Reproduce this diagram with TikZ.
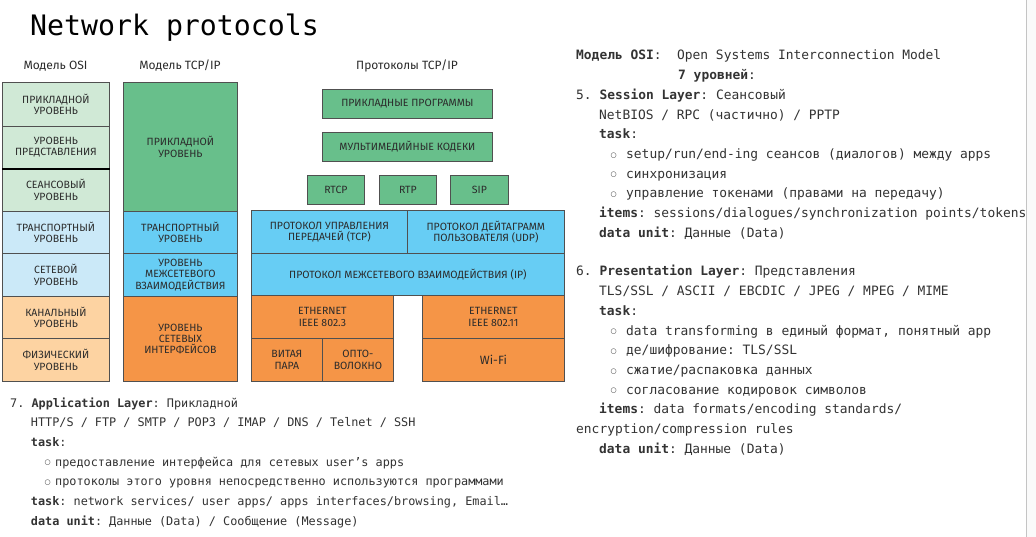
\documentclass[tikz,border=0pt]{standalone}
\usepackage{fontspec}
\setmonofont{DejaVu Sans Mono}
\newfontfamily\dfont{Fira Sans}
\newfontfamily\symf{DejaVu Sans}
\definecolor{osig}{HTML}{D0E9D6}
\definecolor{osib}{HTML}{CBE9F8}
\definecolor{osio}{HTML}{FDD3A2}
\definecolor{tcpg}{HTML}{68BF8B}
\definecolor{tcpb}{HTML}{67CDF4}
\definecolor{tcpo}{HTML}{F59547}
\definecolor{boxline}{HTML}{505050}
\definecolor{dtext}{HTML}{2B2B2B}
\definecolor{btext}{HTML}{333333}
\definecolor{scrollbg}{HTML}{FAFAFA}
\definecolor{scrollline}{HTML}{C4C4C4}
\newcommand{\bul}{{\symf\fontsize{7}{7}\selectfont ○}}
\begin{document}
\begin{tikzpicture}[x=1pt,y=-1pt,
  box/.style={draw=boxline, line width=0.8pt, inner sep=0pt, anchor=north west, align=center,
    font=\dfont\fontsize{10.5}{11.3}\selectfont, text=dtext},
  hdr/.style={inner sep=0pt, font=\dfont\fontsize{12}{13}\selectfont, text=dtext},
  txt/.style={anchor=base west, inner sep=0pt, font=\ttfamily\fontsize{12.9}{15}\selectfont, text=btext},
  txs/.style={anchor=base west, inner sep=0pt, font=\ttfamily\fontsize{11.83}{14}\selectfont, text=btext},
  bull/.style={anchor=base west, inner sep=0pt, text=btext}
]
\useasboundingbox (0,0) rectangle (1036,537);
\fill[white] (0,0) rectangle (1036,537);
\fill[scrollbg] (1026,0) rectangle (1036,537);
\draw[scrollline, line width=1pt] (1026,0) -- (1026,537);

% title
\node[anchor=base west, inner sep=0pt, font=\ttfamily\fontsize{28.2}{30}\selectfont] (title) at (30,35.5) {Network protocols};

% headers
\node[hdr] (h1) at (55.5,66) {Модель OSI};
\node[hdr] (h2) at (180,66) {Модель TCP/IP};
\node[hdr] (h3) at (407,66) {Протоколы TCP/IP};

% OSI model
\node[box, fill=osig, minimum width=107pt, minimum height=44pt] (o7) at (2,82) {ПРИКЛАДНОЙ\\УРОВЕНЬ};
\node[box, fill=osig, minimum width=107pt, minimum height=42pt] (o6) at (2,126) {УРОВЕНЬ\\ПРЕДСТАВЛЕНИЯ};
\node[box, fill=osig, minimum width=107pt, minimum height=43pt] (o5) at (2,168) {СЕАНСОВЫЙ\\УРОВЕНЬ};
\node[box, fill=osib, minimum width=107pt, minimum height=42pt] (o4) at (2,211) {ТРАНСПОРТНЫЙ\\УРОВЕНЬ};
\node[box, fill=osib, minimum width=107pt, minimum height=43pt] (o3) at (2,253) {СЕТЕВОЙ\\УРОВЕНЬ};
\node[box, fill=osio, minimum width=107pt, minimum height=42pt] (o2) at (2,296) {КАНАЛЬНЫЙ\\УРОВЕНЬ};
\node[box, fill=osio, minimum width=107pt, minimum height=43pt] (o1) at (2,338) {ФИЗИЧЕСКИЙ\\УРОВЕНЬ};
\draw[black, line width=1.6pt] (o6.south west) -- (o6.south east);

% TCP/IP model
\node[box, fill=tcpg, minimum width=114pt, minimum height=129pt] (t4) at (123,82) {ПРИКЛАДНОЙ\\УРОВЕНЬ};
\node[box, fill=tcpb, minimum width=114pt, minimum height=42pt] (t3) at (123,211) {ТРАНСПОРТНЫЙ\\УРОВЕНЬ};
\node[box, fill=tcpb, minimum width=114pt, minimum height=43pt] (t2) at (123,253) {УРОВЕНЬ\\МЕЖСЕТЕВОГО\\ВЗАИМОДЕЙСТВИЯ};
\node[box, fill=tcpo, minimum width=114pt, minimum height=85pt] (t1) at (123,296) {УРОВЕНЬ\\СЕТЕВЫХ\\ИНТЕРФЕЙСОВ};

% TCP/IP protocols
\node[box, fill=tcpg, minimum width=170pt, minimum height=29pt] (apps) at (322,89) {ПРИКЛАДНЫЕ ПРОГРАММЫ};
\node[box, fill=tcpg, minimum width=170pt, minimum height=29pt] (codec) at (322,132) {МУЛЬТИМЕДИЙНЫЕ КОДЕКИ};
\node[box, fill=tcpg, minimum width=57pt, minimum height=29pt] (rtcp) at (307,175) {RTCP};
\node[box, fill=tcpg, minimum width=57pt, minimum height=29pt] (rtp) at (379,175) {RTP};
\node[box, fill=tcpg, minimum width=58pt, minimum height=29pt] (sip) at (450,175) {SIP};
\node[box, fill=tcpb, minimum width=156pt, minimum height=43pt] (tcp) at (251,210) {ПРОТОКОЛ УПРАВЛЕНИЯ\\ПЕРЕДАЧЕЙ (TCP)};
\node[box, fill=tcpb, minimum width=157pt, minimum height=43pt] (udp) at (407,210) {ПРОТОКОЛ ДЕЙТАГРАММ\\ПОЛЬЗОВАТЕЛЯ (UDP)};
\node[box, fill=tcpb, minimum width=313pt, minimum height=42pt] (ip) at (251,253) {ПРОТОКОЛ МЕЖСЕТЕВОГО ВЗАИМОДЕЙСТВИЯ (IP)};
\node[box, fill=tcpo, minimum width=142pt, minimum height=43pt] (eth1) at (251,295) {ETHERNET\\IEEE 802.3};
\node[box, fill=tcpo, minimum width=71pt, minimum height=43pt] (tp) at (251,338) {ВИТАЯ\\ПАРА};
\node[box, fill=tcpo, minimum width=71pt, minimum height=43pt] (fib) at (322,338) {ОПТО-\\ВОЛОКНО};
\node[box, fill=tcpo, minimum width=142pt, minimum height=43pt] (eth2) at (422,295) {ETHERNET\\IEEE 802.11};
\node[box, fill=tcpo, minimum width=142pt, minimum height=43pt, font=\dfont\fontsize{12}{13}\selectfont] (wifi) at (422,338) {Wi-Fi};

% right column text
\node[txt] (r1) at (576,60) {\textbf{Модель OSI}:\ \ Open Systems Interconnection Model};
\node[txt] (r2) at (678,79.7) {\textbf{7 уровней}:};
\node[txt] (r3) at (576,99.4) {5. \textbf{Session Layer}: Сеансовый};
\node[txt] (r4) at (599,119.1) {NetBIOS / RPC (частично) / PPTP};
\node[txt] (r5) at (599,138.8) {\textbf{task}:};
\node[bull] (b1) at (610.5,157.2) {\bul};
\node[txt] (r6) at (626,158.5) {setup/run/end-ing сеансов (диалогов) между apps};
\node[bull] (b2) at (610.5,176.9) {\bul};
\node[txt] (r7) at (626,178.2) {синхронизация};
\node[bull] (b3) at (610.5,196.6) {\bul};
\node[txt] (r8) at (626,197.9) {управление токенами (правами на передачу)};
\node[txt] (r9) at (599,217.6) {\textbf{items}: sessions/dialogues/synchronization points/tokens};
\node[txt] (r10) at (599,237.3) {\textbf{data unit}: Данные (Data)};

\node[txt] (s1) at (576,276) {6. \textbf{Presentation Layer}: Представления};
\node[txt] (s2) at (599,295.7) {TLS/SSL / ASCII / EBCDIC / JPEG / MPEG / MIME};
\node[txt] (s3) at (599,315.4) {\textbf{task}:};
\node[bull] (b4) at (610.5,333.8) {\bul};
\node[txt] (s4) at (626,335.1) {data transforming в единый формат, понятный app};
\node[bull] (b5) at (610.5,353.5) {\bul};
\node[txt] (s5) at (626,354.8) {де/шифрование: TLS/SSL};
\node[bull] (b6) at (610.5,373.2) {\bul};
\node[txt] (s6) at (626,374.5) {сжатие/распаковка данных};
\node[bull] (b7) at (610.5,392.9) {\bul};
\node[txt] (s7) at (626,394.2) {согласование кодировок символов};
\node[txt] (s8) at (599,413.9) {\textbf{items}: data formats/encoding standards/};
\node[txt] (s9) at (576,433.6) {encryption/compression rules};
\node[txt] (s10) at (599,453.3) {\textbf{data unit}: Данные (Data)};

% bottom-left text
\node[txs] (a1) at (10,407) {7. \textbf{Application Layer}: Прикладной};
\node[txs] (a2) at (30.7,426.7) {HTTP/S / FTP / SMTP / POP3 / IMAP / DNS / Telnet / SSH};
\node[txs] (a3) at (30.7,446.4) {\textbf{task}:};
\node[bull] (b8) at (44.5,464.9) {\bul};
\node[txs] (a4) at (55,466.1) {предоставление интерфейса для сетевых user’s apps};
\node[bull] (b9) at (44.5,484.6) {\bul};
\node[txs] (a5) at (55,485.8) {протоколы этого уровня непосредственно используются программами};
\node[txs] (a6) at (30.7,505.5) {\textbf{task}: network services/ user apps/ apps interfaces/browsing, Email…};
\node[txs] (a7) at (30.7,525.2) {\textbf{data unit}: Данные (Data) / Сообщение (Message)};
\end{tikzpicture}
\end{document}
